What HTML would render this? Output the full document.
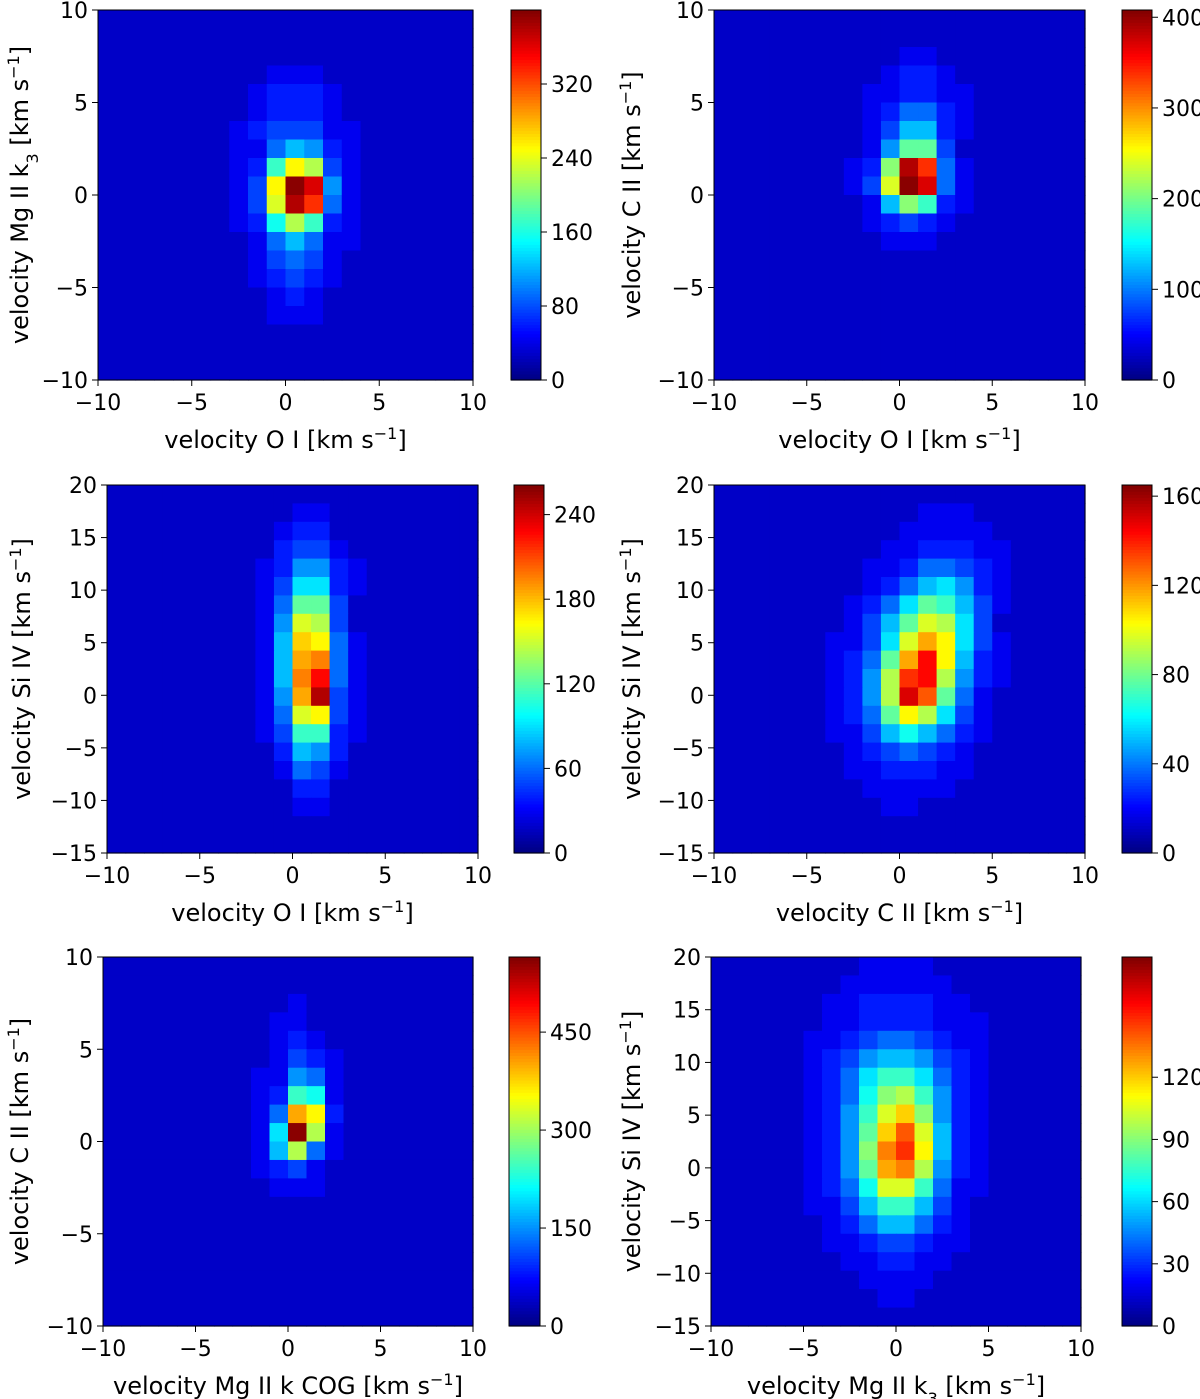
<!DOCTYPE html>
<html><head><meta charset="utf-8"><style>
body{margin:0;background:#fff}
svg{display:block;font-family:"DejaVu Sans","Liberation Sans",sans-serif}
</style></head><body>
<svg id="fig" width="1200" height="1399" viewBox="0 0 1200 1399" xmlns="http://www.w3.org/2000/svg"></svg>
<script>
// Histogram data: per panel, 20 rows (top to bottom), each row [startCol, levels] with levels a..z; unspecified cells = 'b'
const p1Rows=[null,null,null,[9,"ccc"],[8,"cdddc"],[8,"cdddc"],[7,"cdeeecc"],[7,"ccfhgdc"],[7,"cdkpnec"],[7,"cepywgc"],[7,"ceoxufc"],[7,"cdjnkdc"],[8,"cfhfcc"],[8,"cefec"],[8,"cdedc"],[9,"cdc"],[9,"ccc"],null,null,null];
const p2Rows=[null,null,[10,"cc"],[9,"cddc"],[8,"ccddcc"],[8,"cdffdc"],[8,"cehhdc"],[8,"cglle"],[7,"cdmxufc"],[7,"ceoywfc"],[8,"chmkdc"],[8,"cdedc"],[9,"ccc"],null,null,null,null,null,null,null];
const p3Rows=[null,[10,"cc"],[9,"cdd"],[9,"deec"],[8,"cdggdc"],[8,"ceiidc"],[8,"cflle"],[8,"cgone"],[8,"chqpfc"],[8,"chrsfc"],[8,"chsvfc"],[8,"cgrxec"],[8,"cfopec"],[8,"cekkdc"],[9,"dhgd"],[9,"cfec"],[10,"dd"],[10,"cc"],null,null];
const p4Rows=[null,[11,"ccc"],[10,"ccccc"],[9,"ccdddcc"],[8,"ccdffedc"],[8,"cdfhigdc"],[7,"cdfilkhec"],[7,"cehlonie"],[6,"cceiorpiec"],[6,"cdflrvphdc"],[6,"cdgnuvngdc"],[6,"cdgnwtlfc"],[6,"cdflpniec"],[6,"ccehjhfdc"],[7,"cdefedc"],[7,"ccdddcc"],[8,"ccccc"],[9,"cc"],null,null];
const p5Rows=[null,null,[10,"c"],[9,"cc"],[9,"cdc"],[9,"cedc"],[8,"ccgfc"],[8,"cdkjc"],[8,"cfrpd"],[8,"ciync"],[8,"chnfc"],[8,"cdec"],[9,"ccc"],null,null,null,null,null,null,null];
const p6Rows=[[8,"cccc"],[7,"cccccc"],[6,"ccddddcc"],[6,"ccddddccc"],[5,"ccdeffedcc"],[5,"cdeghhgedc"],[5,"cdfikkifdc"],[5,"cdfjmnkgdc"],[5,"cdgkoqmgdc"],[5,"cdglqtohdc"],[5,"cdgmsuphdc"],[5,"cdglrsngdc"],[5,"cdfjookfcc"],[5,"ccehkkhec"],[6,"cdfhhfdc"],[6,"ccdeedcc"],[7,"ccddcc"],[8,"cccc"],[9,"cc"],null];
const panelMax=[400,408,261,165,565,178];
const cbTicks=[[0,80,160,240,320],[0,100,200,300,400],[0,60,120,180,240],[0,40,80,120,160],[0,150,300,450],[0,30,60,90,120]];
const xTicks=[-10,-5,0,5,10];
const yTicksA=[-10,-5,0,5,10];
const yTicksB=[-15,-10,-5,0,5,10,15,20];

const NS="http://www.w3.org/2000/svg";
const svg=document.getElementById('fig');
function mk(tag,attrs,parent){const e=document.createElementNS(NS,tag);for(const k in attrs)e.setAttribute(k,attrs[k]);(parent||svg).appendChild(e);return e;}
function jet(v){v=Math.max(0,Math.min(1,v));
 const r=Math.max(0,Math.min(1,1.5-Math.abs(4*v-3)));
 const g=Math.max(0,Math.min(1,1.5-Math.abs(4*v-2)));
 const b=Math.max(0,Math.min(1,1.5-Math.abs(4*v-1)));
 return `rgb(${Math.round(r*255)},${Math.round(g*255)},${Math.round(b*255)})`;}
function label(parent,x,y,parts,rot,name){
 const t=mk('text',{x:x,y:y,'font-size':24,'text-anchor':'middle',fill:'#000'},parent);
 if(rot)t.setAttribute('transform',`rotate(-90 ${x} ${y})`);
 
 
 parts.forEach(p=>{const s=mk('tspan',{},t);s.textContent=p[0];
  if(p[1]==='sup'){s.setAttribute('baseline-shift','super');s.setAttribute('font-size',16);}
  if(p[1]==='sub'){s.setAttribute('baseline-shift','sub');s.setAttribute('font-size',16);}});
}
const panels=[
 {rows:p1Rows,box:[98,10,473,380],yr:[-10,10],yt:yTicksA,cb:[511,541],xl:[["velocity O I [km s"],["−1","sup"],["]"]],yl:[["velocity Mg II k"],["3","sub"],[" [km s"],["−1","sup"],["]"]],ylx:28},
 {rows:p2Rows,box:[714,10,1085,380],yr:[-10,10],yt:yTicksA,cb:[1122,1152],xl:[["velocity O I [km s"],["−1","sup"],["]"]],yl:[["velocity C II [km s"],["−1","sup"],["]"]],ylx:640},
 {rows:p3Rows,box:[107,485,478,853],yr:[-15,20],yt:yTicksB,cb:[514,544],xl:[["velocity O I [km s"],["−1","sup"],["]"]],yl:[["velocity Si IV [km s"],["−1","sup"],["]"]],ylx:30},
 {rows:p4Rows,box:[714,485,1085,853],yr:[-15,20],yt:yTicksB,cb:[1122,1152],xl:[["velocity C II [km s"],["−1","sup"],["]"]],yl:[["velocity Si IV [km s"],["−1","sup"],["]"]],ylx:640},
 {rows:p5Rows,box:[103,957,473,1326],yr:[-10,10],yt:yTicksA,cb:[509,540],xl:[["velocity Mg II k COG [km s"],["−1","sup"],["]"]],yl:[["velocity C II [km s"],["−1","sup"],["]"]],ylx:28},
 {rows:p6Rows,box:[711,957,1081,1326],yr:[-15,20],yt:yTicksB,cb:[1122,1152],xl:[["velocity Mg II k"],["3","sub"],[" [km s"],["−1","sup"],["]"]],yl:[["velocity Si IV [km s"],["−1","sup"],["]"]],ylx:640}
];
panels.forEach((P,pi)=>{
 const g=mk('g',{});
 
 
 const [x0,y0,x1,y1]=P.box, W=x1-x0, H=y1-y0;
 const sx=v=>x0+(v+10)/20*W;
 const sy=v=>y1-(v-P.yr[0])/(P.yr[1]-P.yr[0])*H;
 const N=20, cw=W/N, ch=H/N;
 for(let r=0;r<N;r++){
  let s='bbbbbbbbbbbbbbbbbbbb'.split('');
  const row=P.rows[r];
  if(row){for(let i=0;i<row[1].length;i++)s[row[0]+i]=row[1][i];}
  for(let c=0;c<N;c++){
   const v=(s[c].charCodeAt(0)-97)/25+0.03;
   const cell=mk('rect',{x:x0+c*cw,y:y0+r*ch,width:cw+0.6,height:ch+0.6,fill:jet(v)},g);
   
   
  }
 }
 const fr=mk('rect',{x:x0,y:y0,width:W,height:H,fill:'none',stroke:'#000','stroke-width':1},g);
 
 
 xTicks.forEach(t=>{const x=sx(t);
  mk('line',{x1:x,x2:x,y1:y1,y2:y1+6,stroke:'#000'},g);
  const tx=mk('text',{x:x,y:y1+30,'font-size':22,'text-anchor':'middle'},g);tx.textContent=(t<0?'−':'')+Math.abs(t);
  
  });
 P.yt.forEach(t=>{const y=sy(t);
  mk('line',{x1:x0-6,x2:x0,y1:y,y2:y,stroke:'#000'},g);
  const tx=mk('text',{x:x0-10,y:y+8,'font-size':22,'text-anchor':'end'},g);tx.textContent=(t<0?'−':'')+Math.abs(t);
  
  });
 label(g,(x0+x1)/2,y1+68,P.xl,false,'x-axis-title');
 label(g,P.ylx,(y0+y1)/2,P.yl,true,'y-axis-title');
 const [c0,c1]=P.cb, M=panelMax[pi];
 const cbg=mk('g',{},g);
 
 
 const steps=120;
 for(let k=0;k<steps;k++){
  mk('rect',{x:c0,y:y1-(k+1)*H/steps,width:c1-c0,height:H/steps+0.6,fill:jet((k+0.5)/steps)},cbg);
 }
 mk('rect',{x:c0,y:y0,width:c1-c0,height:H,fill:'none',stroke:'#000'},cbg);
 cbTicks[pi].forEach(t=>{const y=y1-t/M*H;
  mk('line',{x1:c1,x2:c1+6,y1:y,y2:y,stroke:'#000'},cbg);
  const tx=mk('text',{x:c1+10,y:y+8,'font-size':22},cbg);tx.textContent=t;
  
  });
});
</script>
</body></html>
